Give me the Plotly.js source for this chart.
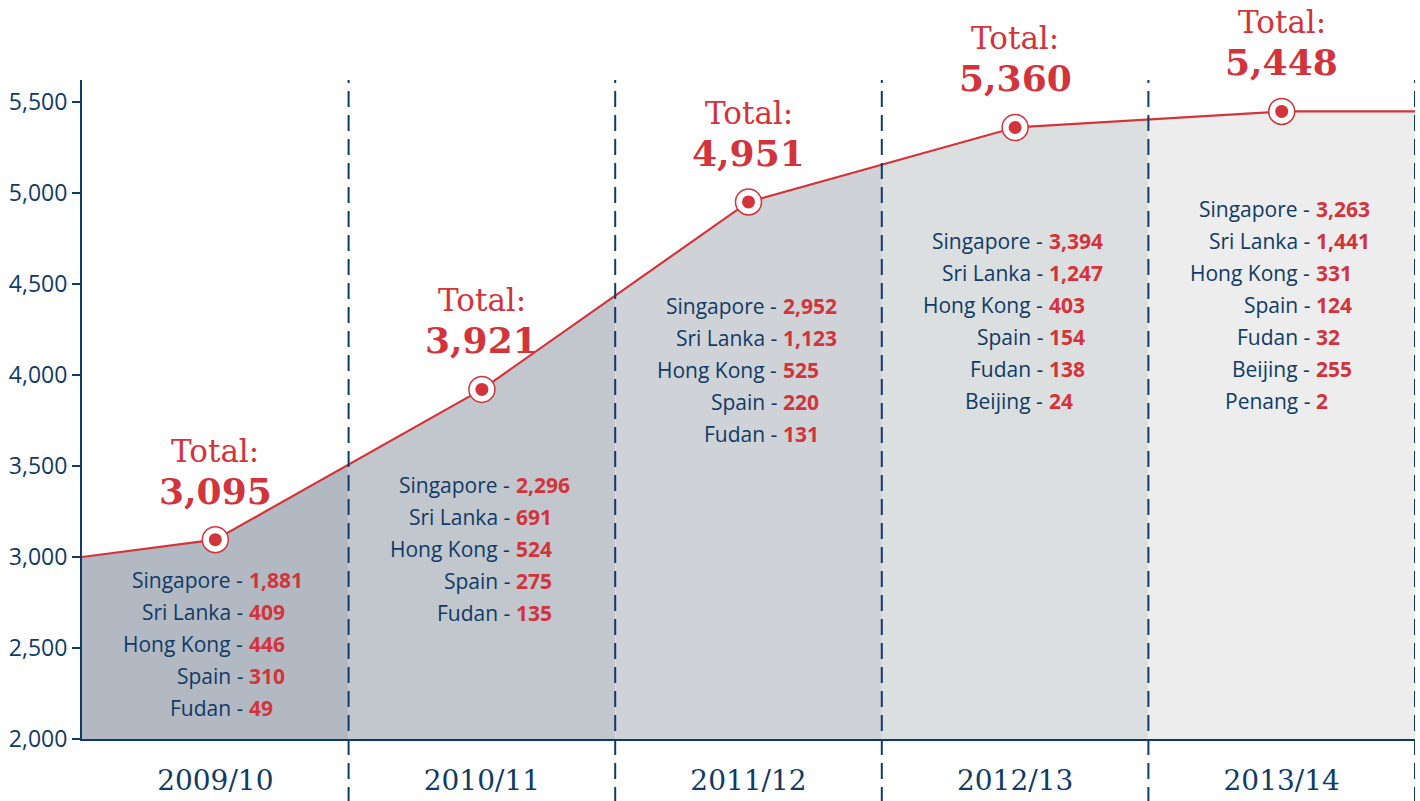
<!DOCTYPE html>
<html>
<head>
<meta charset="utf-8">
<script src="https://cdn.plot.ly/plotly-3.0.1.min.js"></script>
<style>html,body{margin:0;padding:0;background:#fff;}#chart{width:1420px;height:801px;}</style>
</head>
<body>
<div id="chart"></div>
<script>
// ---- data ----
const years = ['2009/10', '2010/11', '2011/12', '2012/13', '2013/14'];
const totals = [3095, 3921, 4951, 5360, 5448];
const lineStartValue = 3000;   // value where the line enters the chart at the left edge
const yTicks = [2000, 2500, 3000, 3500, 4000, 4500, 5000, 5500];

const names0910 = ['Singapore', 'Sri Lanka', 'Hong Kong', 'Spain', 'Fudan'];
const values0910 = [1881, 409, 446, 310, 49];
const names1011 = ['Singapore', 'Sri Lanka', 'Hong Kong', 'Spain', 'Fudan'];
const values1011 = [2296, 691, 524, 275, 135];
const names1112 = ['Singapore', 'Sri Lanka', 'Hong Kong', 'Spain', 'Fudan'];
const values1112 = [2952, 1123, 525, 220, 131];
const names1213 = ['Singapore', 'Sri Lanka', 'Hong Kong', 'Spain', 'Fudan', 'Beijing'];
const values1213 = [3394, 1247, 403, 154, 138, 24];
const names1314 = ['Singapore', 'Sri Lanka', 'Hong Kong', 'Spain', 'Fudan', 'Beijing', 'Penang'];
const values1314 = [3263, 1441, 331, 124, 32, 255, 2];

// ---- layout / style ----
const NAVY = '#0f3b66';
const RED = '#d3343b';
const bandColors = ['#b3b9c2', '#c2c6cd', '#cfd2d6', '#dcdfe0', '#ecedec'];
const W = 1420, H = 801;
const M = {l: 82, r: 5, t: 80, b: 62};
const plotH = H - M.t - M.b;
const yMin = 2000, pxPerUnit = 0.182;
const yTop = yMin + plotH / pxPerUnit;
const nCat = years.length;
const pxPerX = (W - M.l - M.r) / nCat;

function pyToData(py) { return yMin + (H - M.b - py) / pxPerUnit; }
const fmt = v => v.toLocaleString('en-US');

const centers = years.map((_, i) => i + 0.5);
const lineX = [0].concat(centers, [nCat]);
const lineY = [lineStartValue].concat(totals, [totals[totals.length - 1]]);

const traces = [
  {x: [0, nCat], y: [yTop + 500, yTop + 500], mode: 'lines', line: {width: 0}, hoverinfo: 'skip', showlegend: false},
  {x: lineX, y: lineY, mode: 'lines', fill: 'tonexty', fillcolor: '#ffffff',
   line: {color: RED, width: 2.2}, hoverinfo: 'skip', showlegend: false},
  {x: centers, y: totals, mode: 'markers', cliponaxis: false,
   marker: {size: 26, color: '#ffffff', line: {color: RED, width: 1.5}}, hoverinfo: 'skip', showlegend: false},
  {x: centers, y: totals, mode: 'markers', cliponaxis: false,
   marker: {size: 13, color: RED, line: {width: 0}}, hoverinfo: 'skip', showlegend: false}
];

const shapes = [];
for (let i = 0; i < nCat; i++) {
  shapes.push({type: 'rect', layer: 'below', xref: 'x', yref: 'y', x0: i, x1: i + 1, y0: yMin, y1: yTop,
    fillcolor: bandColors[i], line: {width: 0}});
}
for (let i = 1; i <= nCat; i++) {
  shapes.push({type: 'line', layer: 'above', xref: 'x', yref: 'paper', x0: i, x1: i, y0: -(M.b + 2) / plotH, y1: 1,
    line: {color: NAVY, width: 2, dash: '16px,8px'}});
}

const annotations = [];
totals.forEach((t, i) => {
  annotations.push({x: centers[i], y: t, xref: 'x', yref: 'y', text: 'Total:', showarrow: false,
    yshift: 89, font: {family: 'DejaVu Serif', size: 31, color: RED}});
  annotations.push({x: centers[i], y: t, xref: 'x', yref: 'y', text: '<b>' + fmt(t) + '</b>', showarrow: false,
    yshift: 49, font: {family: 'DejaVu Serif', size: 36, color: RED}});
});

const lists = [[names0910, values0910], [names1011, values1011], [names1112, values1112],
               [names1213, values1213], [names1314, values1314]];
const firstRowPx = [580, 485, 306, 241, 209];
const rowGap = 32;
const dashOffset = 31 / pxPerX;
lists.forEach(([names, vals], i) => {
  names.forEach((n, k) => {
    const y = pyToData(firstRowPx[i] + k * rowGap);
    annotations.push({x: centers[i] + dashOffset, y: y, xref: 'x', yref: 'y', text: n + ' -', showarrow: false,
      xanchor: 'right', xshift: -1, font: {family: 'Open Sans', size: 21, color: NAVY}});
    annotations.push({x: centers[i] + dashOffset, y: y, xref: 'x', yref: 'y', text: '<b>' + fmt(vals[k]) + '</b>', showarrow: false,
      xanchor: 'left', xshift: 1, font: {family: 'Open Sans', size: 21, color: RED}});
  });
});

const layout = {
  width: W, height: H,
  margin: M,
  paper_bgcolor: '#ffffff', plot_bgcolor: '#ffffff',
  showlegend: false,
  xaxis: {range: [0, nCat], tickvals: centers, ticktext: years, showgrid: false, zeroline: false,
    showline: true, linecolor: NAVY, linewidth: 2, ticks: '', ticklabelstandoff: 15,
    tickfont: {family: 'DejaVu Serif', size: 28, color: NAVY}, fixedrange: true},
  yaxis: {range: [yMin, yTop], tickvals: yTicks, tickformat: ',', showgrid: false, zeroline: false,
    showline: true, linecolor: NAVY, linewidth: 2, ticks: 'outside', ticklen: 8, tickwidth: 2, tickcolor: NAVY,
    tickfont: {family: 'Open Sans', size: 23, color: NAVY}, fixedrange: true},
  shapes: shapes,
  annotations: annotations
};

Plotly.newPlot('chart', traces, layout, {displayModeBar: false, staticPlot: true});
</script>
</body>
</html>
